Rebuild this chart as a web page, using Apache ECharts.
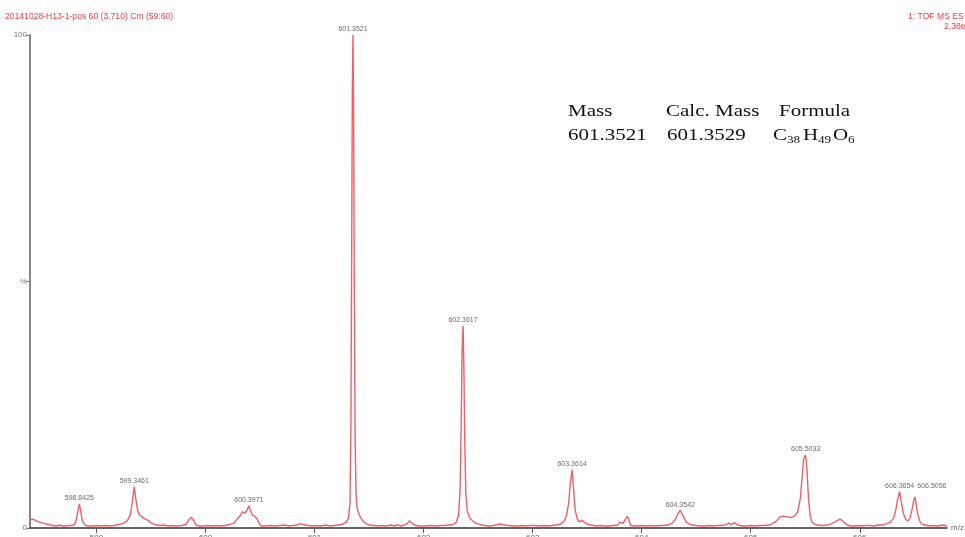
<!DOCTYPE html>
<html>
<head>
<meta charset="utf-8">
<script src="https://cdn.jsdelivr.net/npm/echarts@6/dist/echarts.min.js"></script>
<style>
    html, body { margin: 0; padding: 0; background: #fff; }
    #main { width: 965px; height: 537px; }
</style>
</head>
<body>
<div id="main"></div>
<script>
// spectrum trace (m/z, relative intensity %)
var spectrumMz = [
    598.39, 598.42, 598.45, 598.48, 598.51, 598.54, 598.57, 598.60, 598.63, 598.66,
    598.69, 598.72, 598.75, 598.78, 598.80, 598.815, 598.83, 598.8425, 598.855, 598.87,
    598.89, 598.92, 598.96, 599.00, 599.04, 599.08, 599.12, 599.16, 599.20, 599.24,
    599.28, 599.31, 599.33, 599.3461, 599.36, 599.375, 599.39, 599.41, 599.44, 599.47,
    599.50, 599.54, 599.58, 599.62, 599.66, 599.70, 599.74, 599.78, 599.82, 599.845,
    599.87, 599.89, 599.91, 599.94, 599.98, 600.02, 600.06, 600.10, 600.14, 600.18,
    600.22, 600.26, 600.29, 600.32, 600.34, 600.36, 600.38, 600.3971, 600.41, 600.43,
    600.45, 600.47, 600.49, 600.51, 600.55, 600.60, 600.64, 600.68, 600.72, 600.76,
    600.80, 600.84, 600.87, 600.90, 600.94, 600.98, 601.02, 601.06, 601.10, 601.14,
    601.18, 601.22, 601.26, 601.29, 601.31, 601.325, 601.333, 601.340, 601.346, 601.3521,
    601.358, 601.364, 601.372, 601.380, 601.390, 601.405, 601.42, 601.44, 601.47, 601.50,
    601.54, 601.58, 601.62, 601.66, 601.70, 601.73, 601.76, 601.79, 601.82, 601.85,
    601.87, 601.89, 601.92, 601.95, 601.99, 602.03, 602.07, 602.11, 602.15, 602.19,
    602.23, 602.27, 602.30, 602.32, 602.335, 602.345, 602.353, 602.3617, 602.369, 602.377,
    602.387, 602.40, 602.42, 602.45, 602.48, 602.52, 602.56, 602.60, 602.64, 602.68,
    602.71, 602.74, 602.78, 602.82, 602.86, 602.90, 602.94, 602.98, 603.02, 603.06,
    603.10, 603.14, 603.18, 603.22, 603.26, 603.29, 603.31, 603.33, 603.345, 603.3614,
    603.375, 603.39, 603.41, 603.43, 603.45, 603.47, 603.50, 603.54, 603.58, 603.62,
    603.66, 603.70, 603.74, 603.78, 603.80, 603.815, 603.83, 603.85, 603.87, 603.885,
    603.90, 603.93, 603.96, 604.00, 604.04, 604.08, 604.12, 604.16, 604.20, 604.24,
    604.28, 604.31, 604.33, 604.3542, 604.37, 604.39, 604.41, 604.44, 604.47, 604.50,
    604.54, 604.58, 604.62, 604.66, 604.70, 604.74, 604.77, 604.80, 604.82, 604.85,
    604.87, 604.90, 604.93, 604.96, 605.00, 605.04, 605.08, 605.12, 605.16, 605.20,
    605.24, 605.27, 605.30, 605.33, 605.37, 605.40, 605.43, 605.455, 605.47, 605.485,
    605.5033, 605.515, 605.53, 605.545, 605.56, 605.59, 605.62, 605.66, 605.70, 605.74,
    605.77, 605.80, 605.82, 605.84, 605.86, 605.89, 605.92, 605.95, 605.98, 606.01,
    606.05, 606.09, 606.13, 606.17, 606.21, 606.25, 606.28, 606.31, 606.33, 606.345,
    606.3654, 606.38, 606.40, 606.42, 606.44, 606.46, 606.48, 606.495, 606.5056, 606.515,
    606.53, 606.55, 606.57, 606.60, 606.64, 606.68, 606.72, 606.76, 606.80
];
var spectrumInt = [
    1.6, 1.8, 1.4, 1.2, 1.0, 0.8, 0.7, 0.5, 0.4, 0.6,
    0.4, 0.4, 0.5, 0.5, 0.8, 1.8, 3.5, 4.9, 3.4, 1.5,
    0.7, 0.4, 0.4, 0.5, 0.4, 0.5, 0.4, 0.5, 0.7, 0.9,
    1.4, 2.6, 5.5, 8.4, 6.0, 3.8, 2.8, 2.4, 1.9, 1.6,
    1.0, 0.7, 0.5, 0.6, 0.4, 0.5, 0.4, 0.5, 0.7, 1.6,
    2.2, 1.6, 0.7, 0.4, 0.4, 0.5, 0.4, 0.5, 0.4, 0.5,
    0.7, 1.0, 1.8, 2.6, 3.3, 3.0, 3.6, 4.5, 3.6, 2.6,
    2.4, 2.0, 1.0, 0.4, 0.4, 0.5, 0.4, 0.5, 0.6, 0.4,
    0.5, 0.6, 0.9, 0.7, 0.5, 0.4, 0.5, 0.4, 0.6, 0.4,
    0.5, 0.6, 0.8, 1.2, 2.0, 5.0, 20, 55, 88, 100,
    85, 50, 18, 7, 4, 3, 2.2, 1.5, 0.9, 0.6,
    0.5, 0.4, 0.5, 0.4, 0.6, 0.4, 0.7, 0.4, 0.6, 0.9,
    1.5, 1.0, 0.6, 0.4, 0.4, 0.4, 0.5, 0.4, 0.5, 0.5,
    0.6, 0.7, 1.2, 2.5, 8, 22, 36, 41, 33, 18,
    7, 3.5, 2.2, 1.4, 1.0, 0.7, 0.5, 0.4, 0.5, 0.7,
    0.8, 0.6, 0.5, 0.4, 0.4, 0.5, 0.4, 0.5, 0.5, 0.4,
    0.5, 0.4, 0.5, 0.6, 0.8, 1.4, 2.5, 5, 9, 11.8,
    8, 3.6, 1.8, 1.2, 1.6, 1.2, 0.8, 0.6, 0.4, 0.5,
    0.4, 0.4, 0.5, 0.6, 1.2, 0.8, 0.9, 1.8, 2.4, 1.4,
    0.5, 0.4, 0.4, 0.5, 0.4, 0.5, 0.4, 0.5, 0.5, 0.6,
    1.0, 1.8, 2.8, 3.6, 3.2, 2.0, 1.2, 0.8, 0.6, 0.5,
    0.4, 0.4, 0.5, 0.4, 0.5, 0.5, 0.7, 1.0, 0.7, 1.1,
    0.8, 0.5, 0.4, 0.4, 0.5, 0.4, 0.5, 0.5, 0.6, 0.9,
    1.5, 2.3, 2.4, 2.3, 2.1, 2.4, 3.2, 6, 10, 14,
    14.8, 12, 6, 2.5, 1.2, 0.7, 0.6, 0.5, 0.6, 0.9,
    1.2, 1.6, 1.8, 1.5, 1.0, 0.6, 0.4, 0.4, 0.5, 0.4,
    0.5, 0.5, 0.4, 0.6, 0.6, 0.9, 1.2, 2.0, 3.6, 5.6,
    7.4, 5.4, 3.0, 1.8, 1.4, 2.0, 3.8, 5.6, 6.3, 5.2,
    3.0, 1.4, 0.8, 0.6, 0.4, 0.5, 0.4, 0.6, 0.4
];

// labelled peaks
var peakMz  = [598.8425, 599.3461, 600.3971, 601.3521, 602.3617, 603.3614, 604.3542, 605.5033, 606.3654, 606.5056];
var peakInt = [4.9, 8.4, 4.5, 100, 41, 11.8, 3.6, 14.8, 7.4, 6.3];

var xTicks = [599, 600, 601, 602, 603, 604, 605, 606];
var yTicks = [0, 50, 100];
var yTickText = ['0', '%', '100'];

var lineData = [];
for (var i = 0; i < spectrumMz.length; i++) {
    lineData.push([spectrumMz[i], spectrumInt[i]]);
}

var peakData = [];
for (var j = 0; j < peakMz.length; j++) {
    var item = { value: [peakMz[j], peakInt[j]] };
    if (j === peakMz.length - 1) {
        // last label sits beside its neighbour, not above its own peak
        item.label = { show: true, position: 'top', distance: 2, offset: [17, -5] };
    }
    peakData.push(item);
}

var myChart = echarts.init(document.getElementById('main'));

var serif = "'Liberation Serif', 'DejaVu Serif', serif";
var stretch = 1.2;

function tableText(txt, x, y, size) {
    return {
        type: 'text', x: x, y: y, scaleX: stretch,
        style: {
            text: txt, fill: '#111', fontFamily: serif, fontSize: size,
            verticalAlign: 'middle', align: 'left'
        }
    };
}

var option = {
    animation: false,
    backgroundColor: '#fff',
    grid: {
        left: 30, right: 18, top: 35, bottom: 9,
        containLabel: false,
        outerBoundsMode: 'none'
    },
    xAxis: {
        type: 'value',
        min: 598.39,
        max: 606.80,
        name: 'm/z',
        nameLocation: 'end',
        nameGap: 4,
        nameTextStyle: { color: '#666', fontSize: 8, fontFamily: 'Liberation Sans', verticalAlign: 'middle' },
        axisLine: { lineStyle: { color: '#333', width: 1.5 } },
        axisTick: { show: true, customValues: xTicks, length: 5, lineStyle: { color: '#555' } },
        axisLabel: {
            customValues: xTicks, margin: 6, fontSize: 8, color: '#666',
            fontFamily: 'Liberation Sans',
            formatter: function (v) { return String(Math.round(v)); }
        },
        splitLine: { show: false }
    },
    yAxis: {
        type: 'value',
        min: 0,
        max: 100,
        interval: 50,
        axisLine: { show: true, lineStyle: { color: '#888', width: 2 } },
        axisTick: { show: true, length: 4, lineStyle: { color: '#777' } },
        axisLabel: {
            fontSize: 8, color: '#777', margin: 3, fontFamily: 'Liberation Sans',
            formatter: function (v) { return yTickText[yTicks.indexOf(v)]; }
        },
        splitLine: { show: false }
    },
    series: [
        {
            name: 'spectrum',
            type: 'line',
            data: lineData,
            symbol: 'none',
            smooth: false,
            lineStyle: { color: '#ef5f68', width: 1.4 },
            z: 2
        },
        {
            name: 'peaks',
            type: 'scatter',
            data: peakData,
            symbolSize: 0,
            silent: true,
            label: {
                show: true,
                position: 'top',
                distance: 2,
                fontSize: 7,
                color: '#444',
                fontFamily: 'Liberation Sans',
                formatter: function (p) { return p.value[0].toFixed(4); }
            },
            z: 3
        }
    ],
    graphic: [
        {
            type: 'text', left: 5, top: 12,
            style: { text: '20141028-H13-1-pos 60 (3.710) Cm (59:60)', fill: '#f03c40', fontSize: 8.6, fontFamily: 'Liberation Sans' }
        },
        {
            type: 'text', x: 908, y: 12,
            style: { text: '1: TOF MS ES+', fill: '#f03c40', fontSize: 8.6, fontFamily: 'Liberation Sans' }
        },
        {
            type: 'text', x: 944, y: 22,
            style: { text: '2.38e4', fill: '#f03c40', fontSize: 8.6, fontFamily: 'Liberation Sans' }
        },
        tableText('Mass', 568, 111, 17.5),
        tableText('Calc. Mass', 666, 111, 17.5),
        tableText('Formula', 779, 111, 17.5),
        tableText('601.3521', 568, 135, 17.5),
        tableText('601.3529', 667, 135, 17.5),
        tableText('C', 773, 135, 17.5),
        tableText('38', 787, 140, 11),
        tableText('H', 803, 135, 17.5),
        tableText('49', 818, 140, 11),
        tableText('O', 833, 135, 17.5),
        tableText('6', 848, 140, 11)
    ]
};

myChart.setOption(option);
</script>
</body>
</html>
